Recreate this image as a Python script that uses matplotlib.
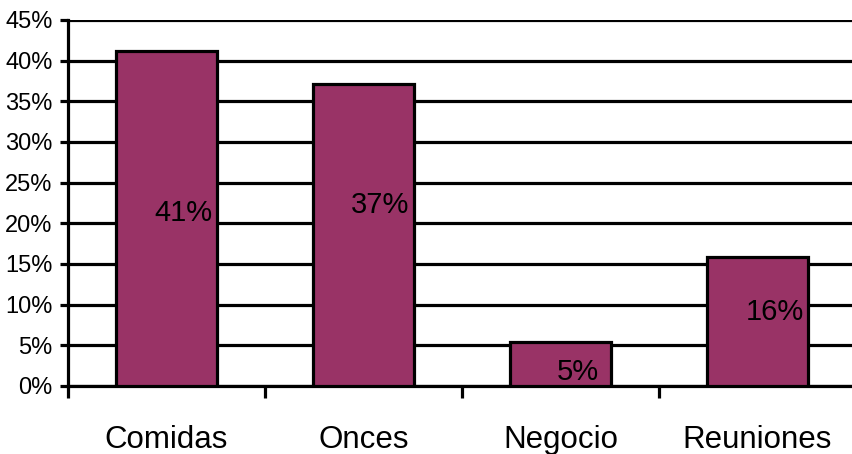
import numpy as np
import matplotlib.pyplot as plt
from matplotlib.ticker import FixedLocator, PercentFormatter

plt.rcParams['font.family'] = ['Liberation Sans', 'DejaVu Sans']

# datos
categorias = ['Comidas', 'Onces', 'Negocio', 'Reuniones']
porcentajes = [41.2, 37.1, 5.4, 15.9]
# altura (en %) donde va cada etiqueta
etiqueta_y = [21.3, 22.3, 1.7, 9.1]

color_barra = '#993366'
lw = 2.3

fig = plt.figure(figsize=(8.52, 4.54), dpi=100)
ax = fig.add_axes([68 / 852, 68 / 454, 788 / 852, 366 / 454])

x = np.arange(len(categorias))
ax.bar(x, porcentajes, width=0.51, color=color_barra, edgecolor='black',
       linewidth=lw, zorder=3)

for i, v in enumerate(porcentajes):
    ax.text(x[i] + 0.086, etiqueta_y[i], f'{v:.0f}%', ha='center', va='center',
            fontsize=21, zorder=4)

ax.set_xlim(-0.5, len(categorias) - 0.5)
ax.set_ylim(0, 45)
ax.set_yticks(np.arange(0, 46, 5))
ax.yaxis.set_major_formatter(PercentFormatter(decimals=0))
ax.grid(axis='y', color='black', linewidth=lw, zorder=0)

ax.set_xticks(x)
ax.set_xticklabels(categorias, fontsize=22.5)
ax.xaxis.set_minor_locator(FixedLocator(np.arange(-0.5, len(categorias), 1.0)))
ax.tick_params(axis='x', which='major', length=0, pad=28)
ax.tick_params(axis='x', which='minor', length=8.5, width=lw, direction='out')
ax.tick_params(axis='y', length=6, width=lw, pad=5, labelsize=17)

for s in ['top', 'right']:
    ax.spines[s].set_visible(False)
ax.spines['left'].set_linewidth(lw)
ax.spines['bottom'].set_linewidth(lw)

fig.savefig('out.png', dpi=100)
